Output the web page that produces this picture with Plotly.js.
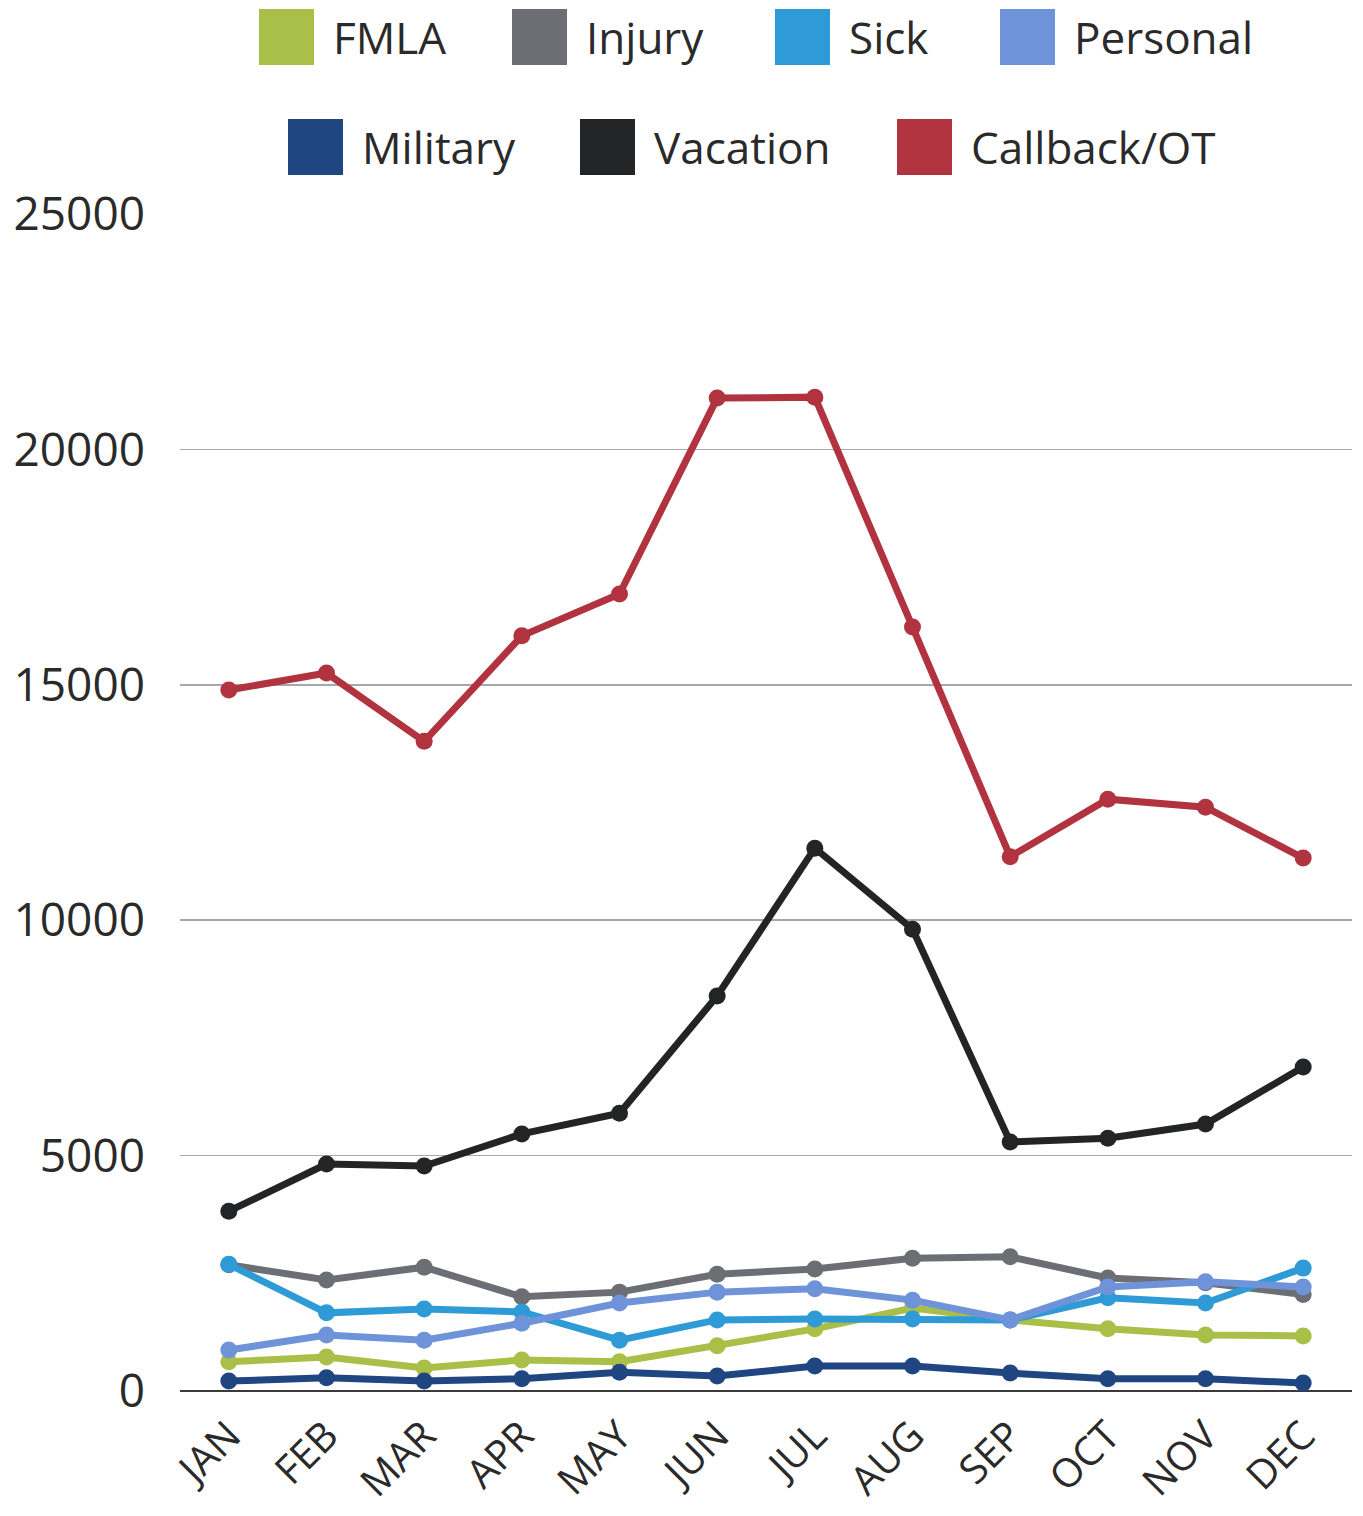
<!DOCTYPE html>
<html><head><meta charset="utf-8">
<script src="https://cdn.plot.ly/plotly-3.0.1.min.js"></script>
<style>body{margin:0;background:#fff}#chart{width:1363px;height:1516px}</style>
</head><body><div id="chart"></div>
<script>
const months = ["JAN","FEB","MAR","APR","MAY","JUN","JUL","AUG","SEP","OCT","NOV","DEC"];
const seriesNames = ["FMLA","Injury","Sick","Personal","Military","Vacation","Callback/OT"];
const seriesColors = ["#a9bf48","#6b6f74","#2f9bd6","#6f93d8","#1f4680","#222426","#b0333f"];
const fmla     = [620, 720, 490, 660, 620, 960, 1320, 1760, 1510, 1320, 1190, 1170];
const injury   = [2680, 2360, 2630, 2000, 2100, 2480, 2590, 2820, 2850, 2400, 2300, 2050];
const sick     = [2690, 1660, 1740, 1680, 1080, 1510, 1530, 1530, 1510, 1980, 1870, 2610];
const personal = [870, 1190, 1080, 1440, 1870, 2100, 2170, 1930, 1510, 2210, 2320, 2210];
const military = [210, 280, 210, 260, 400, 320, 530, 530, 380, 260, 260, 170];
const vacation = [3820, 4820, 4780, 5460, 5900, 8390, 11530, 9810, 5290, 5370, 5670, 6880];
const callback = [14890, 15250, 13800, 16040, 16930, 21090, 21110, 16230, 11350, 12570, 12400, 11320];
const seriesValues = [fmla, injury, sick, personal, military, vacation, callback];
const yTicks = [0, 5000, 10000, 15000, 20000, 25000];

const W = 1363, H = 1516;
const M = {l:180, r:11, t:214, b:125};
const pw = W - M.l - M.r, ph = H - M.t - M.b;
const px2x = p => (p - M.l) / pw;
const py2y = p => (H - M.b - p) / ph;

const traces = seriesValues.map((vals, i) => ({
  type: "scatter", mode: "lines+markers", name: seriesNames[i],
  x: months, y: vals, showlegend: false,
  line: {color: seriesColors[i], width: 7},
  marker: {color: seriesColors[i], size: 17}
}));

// custom legend (square swatches, two centered rows)
const legendRows = [[0,1,2,3],[4,5,6]];
const legendSwatchX = [259, 512, 775, 1000, 288, 580, 897];
const rowCenterY = [37, 147];
const shapes = [];
const annotations = [];
legendRows.forEach((row, r) => {
  row.forEach(i => {
    const x0 = legendSwatchX[i];
    shapes.push({type:"rect", xref:"paper", yref:"paper",
      x0: px2x(x0), x1: px2x(x0+55), y0: py2y(rowCenterY[r]+28), y1: py2y(rowCenterY[r]-28),
      fillcolor: seriesColors[i], line:{width:0}, layer:"above"});
    annotations.push({xref:"paper", yref:"paper", x: px2x(x0+72), y: py2y(rowCenterY[r]),
      xanchor:"left", yanchor:"middle", showarrow:false, text: seriesNames[i],
      font:{family:"Open Sans, sans-serif", size:44, color:"#2a2a2a"}});
  });
});

const layout = {
  width: W, height: H, margin: M,
  paper_bgcolor:"#ffffff", plot_bgcolor:"rgba(0,0,0,0)",
  showlegend:false,
  font:{family:"Open Sans, sans-serif", color:"#2a2a2a"},
  xaxis:{type:"category", range:[-0.5, 11.5], showgrid:false, zeroline:false,
    showline:false, tickangle:-45, ticks:"", ticklabelstandoff:12,
    tickfont:{size:40, color:"#2a2a2a"}},
  yaxis:{range:[0, 25000], tickvals:yTicks, ticktext:yTicks.map(String),
    showgrid:true, gridcolor:"#a8a8a8", gridwidth:1.5,
    zeroline:true, zerolinecolor:"#3a3a3a", zerolinewidth:2,
    ticks:"", ticklabelstandoff:34, tickfont:{size:46, color:"#2a2a2a"}},
  shapes, annotations
};
Plotly.newPlot("chart", traces, layout, {displayModeBar:false, staticPlot:true});
</script></body></html>
